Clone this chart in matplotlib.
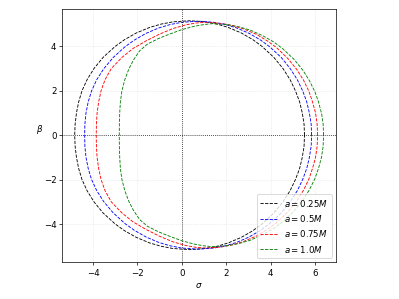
import matplotlib
matplotlib.use('Agg')
import matplotlib.pyplot as plt
import numpy as np

# upper half of each shadow contour (sigma, beta);
# lower half is the mirror image
labels = [r'$a=0.25M$', r'$a=0.5M$', r'$a=0.75M$', r'$a=1.0M$']
colors = ['k', 'b', 'r', 'g']

sig_025 = [5.53, 5.51, 5.43, 5.31, 5.12, 4.88, 4.56, 4.15, 3.61, 3.2, 2.68, 2.09, 1.59, 1.07, 0.35,
           -0.4, -0.93, -1.45, -2.05, -2.58, -3.0, -3.55, -3.96, -4.27, -4.5, -4.65, -4.75, -4.81, -4.83]
bet_025 = [0.0, 0.5, 1.0, 1.5, 2.0, 2.5, 3.0, 3.5, 4.0, 4.3, 4.6, 4.85, 5.0, 5.1, 5.15,
           5.1, 5.0, 4.85, 4.6, 4.3, 4.0, 3.5, 3.0, 2.5, 2.0, 1.5, 1.0, 0.5, 0.0]

sig_05 = [5.85, 5.83, 5.75, 5.63, 5.45, 5.21, 4.89, 4.49, 3.96, 3.55, 3.04, 2.46, 1.96, 1.45, 0.735,
          0.0, -0.52, -1.03, -1.62, -2.14, -2.56, -3.1, -3.52, -3.84, -4.07, -4.22, -4.32, -4.37, -4.38]
bet_05 = [0.0, 0.5, 1.0, 1.5, 1.99, 2.49, 2.99, 3.49, 3.98, 4.28, 4.58, 4.83, 4.98, 5.08, 5.13,
          5.08, 4.98, 4.83, 4.58, 4.28, 3.98, 3.49, 2.99, 2.49, 1.99, 1.5, 1.0, 0.5, 0.0]

sig_075 = [6.12, 6.1, 6.03, 5.89, 5.73, 5.49, 5.18, 4.78, 4.26, 3.86, 3.36, 2.79, 2.3, 1.8, 1.1,
           0.65, 0.2, -0.4, -1.0, -1.6, -2.2, -2.7, -3.18, -3.46, -3.64, -3.75, -3.82, -3.85, -3.86]
bet_075 = [0.0, 0.5, 0.99, 1.5, 1.97, 2.47, 2.96, 3.45, 3.95, 4.24, 4.54, 4.78, 4.93, 5.03, 5.08,
           5.05, 4.97, 4.8, 4.55, 4.25, 3.9, 3.5, 3.0, 2.5, 2.0, 1.5, 1.0, 0.5, 0.0]

sig_10 = [6.39, 6.37, 6.3, 6.16, 6.0, 5.76, 5.46, 5.06, 4.54, 4.15, 3.64, 3.08, 2.6, 2.09, 1.4,
          1.0, 0.55, 0.0, -0.55, -1.05, -1.55, -1.9, -2.17, -2.38, -2.57, -2.7, -2.77, -2.8, -2.815, -2.82]
bet_10 = [0.0, 0.5, 0.975, 1.5, 1.95, 2.44, 2.92, 3.41, 3.9, 4.19, 4.48, 4.73, 4.87, 4.97, 5.02,
          4.98, 4.9, 4.75, 4.55, 4.35, 4.1, 3.8, 3.4, 3.0, 2.5, 2.0, 1.5, 1.0, 0.5, 0.0]

sigmas = [sig_025, sig_05, sig_075, sig_10]
betas = [bet_025, bet_05, bet_075, bet_10]

fig = plt.figure(figsize=(6.4, 4.8), dpi=399 / 6.4)
ax = fig.add_axes([0.1566, 0.1227, 0.6855, 0.8465])

for s, b, c, lab in zip(sigmas, betas, colors, labels):
    s = np.array(s)
    b = np.array(b)
    xs = np.concatenate([s, s[::-1]])
    ys = np.concatenate([b, -b[::-1]])
    ax.plot(xs, ys, '--', color=c, lw=1.0, label=lab)

ax.axhline(0, color='k', ls=':', lw=0.9)
ax.axvline(0, color='k', ls=':', lw=0.9)
ax.grid(True, ls=':', alpha=0.4)

ax.set_xlim(-5.38, 6.95)
ax.set_ylim(-5.72, 5.68)
ax.set_xticks([-4, -2, 0, 2, 4, 6])
ax.set_yticks([-4, -2, 0, 2, 4])
ax.set_xlabel(r'$\sigma$')
ax.set_ylabel(r'$\beta$', rotation=0, labelpad=5)
ax.legend(loc='lower right')

fig.savefig('out.png', dpi=399 / 6.4)
